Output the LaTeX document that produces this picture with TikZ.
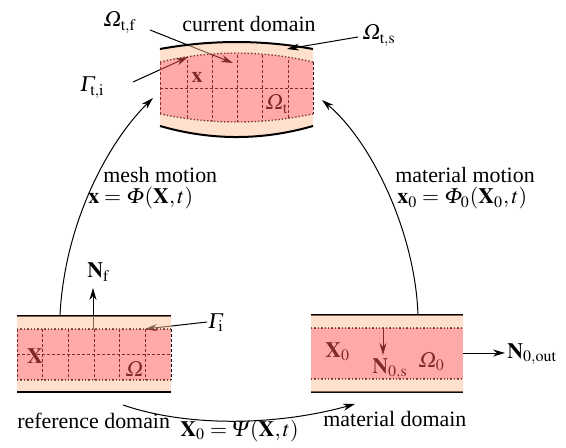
\documentclass[tikz,border=0pt,11pt]{standalone}
\usepackage{mathptmx}
\usepackage{fontspec}
\setmainfont{Liberation Serif}
\usetikzlibrary{arrows.meta}

% slanted capital Greek from the letters font
\DeclareMathSymbol{\itGamma}{\mathalpha}{letters}{"00}
\DeclareMathSymbol{\itPhi}{\mathalpha}{letters}{"08}
\DeclareMathSymbol{\itPsi}{\mathalpha}{letters}{"09}
\DeclareMathSymbol{\itOmega}{\mathalpha}{letters}{"0A}

\definecolor{peach}{RGB}{255,193,153}
\definecolor{rose}{RGB}{255,85,85}

\tikzset{
  wall/.style={line width=1pt},
  iface/.style={densely dotted, line width=0.7pt},
  meshline/.style={dash pattern=on 1.5pt off 1pt, line width=0.4pt},
  solidlayer/.style={fill=peach, fill opacity=0.5},
  fluidlayer/.style={fill=rose, fill opacity=0.5},
  lbl/.style={inner sep=0pt, anchor=base west},
  pointer/.style={-{Stealth[length=6pt,width=3.5pt]}, line width=0.5pt},
}

\begin{document}
\begin{tikzpicture}[x=0.5pt, y=-0.5pt]
\useasboundingbox (0,0) rectangle (566,448);

% texts
\node[lbl, anchor=base] (curlbl) at (249,32) {current domain};
\node[lbl] (omtf) at (103,27) {$\itOmega_{\mathrm{t,f}}$};
\node[lbl] (gati) at (80,92) {$\itGamma_{\mathrm{t,i}}$};
\node[lbl] (omts) at (362,40) {$\itOmega_{\mathrm{t,s}}$};
\node[lbl] (meshlbl) at (103,183) {mesh motion};
\node[lbl] (meshmap) at (88,204) {$\mathbf{x}=\itPhi(\mathbf{X},t)$};
\node[lbl] (matlbl) at (395,183) {material motion};
\node[lbl] (matmap) at (397,204) {$\mathbf{x}_0=\itPhi_0(\mathbf{X}_0,t)$};
\node[lbl] (nf) at (87,278) {$\mathbf{N}_{\mathrm{f}}$};
\node[lbl] (gai) at (208,328) {$\itGamma_{\mathrm{i}}$};
\node[lbl] (reflbl) at (17,428) {reference domain};
\node[lbl] (psimap) at (180,436) {$\mathbf{X}_0=\itPsi(\mathbf{X},t)$};
\node[lbl] (matdom) at (323,426) {material domain};
\node[lbl] (nout) at (507,358) {$\mathbf{N}_{0,\mathrm{out}}$};

% texts inside the domains (they get tinted by the layers)
\node[lbl, anchor=base] (xcur) at (197,83) {$\mathbf{x}$};
\node[lbl] (omt) at (265,110) {$\itOmega_{\mathrm{t}}$};
\node[lbl, anchor=base] (xref) at (35,363) {$\mathbf{X}$};
\node[lbl] (omref) at (125,376) {$\itOmega$};
\node[lbl] (xmat) at (325,357) {$\mathbf{X}_0$};
\node[lbl] (nos) at (372,373) {$\mathbf{N}_{0,\mathrm{s}}$};
\node[lbl] (ommat) at (418,367) {$\itOmega_0$};

% end points of the pointers
\coordinate (omtf-from) at (150,30);
\coordinate (omtf-to) at (233,63);
\coordinate (gati-from) at (133,82);
\coordinate (gati-to) at (188,57);
\coordinate (omts-from) at (358,37);
\coordinate (omts-to) at (287,49);
\coordinate (nf-from) at (93,329);
\coordinate (nf-to) at (93,288);
\coordinate (gai-from) at (207,322);
\coordinate (gai-to) at (145,329);
\coordinate (nos-from) at (383,329);
\coordinate (nos-to) at (383,355);
\coordinate (nout-from) at (463,353);
\coordinate (nout-to) at (505,353);
\coordinate (ref-top) at (60,315);
\coordinate (cur-left) at (153,98);
\coordinate (mat-top) at (418,315);
\coordinate (cur-right) at (322,100);
\coordinate (ref-low) at (123,405);
\coordinate (mat-low) at (355,404);

% mesh of the current domain
\begin{scope}
  \clip (160,62) .. controls (211,50) and (262,50) .. (313,62) -- (313,114)
    .. controls (262,124.7) and (211,124.7) .. (160,114) -- cycle;
  \foreach \x in {187,212,237,262,288}
    \draw[meshline] (\x,40) -- (\x,140);
  \draw[meshline] (150,88) -- (320,88);
\end{scope}
\draw[meshline] (160,62) -- (160,114) (313,62) -- (313,114);
\draw[iface] (160,62) .. controls (211,50) and (262,50) .. (313,62);
\draw[iface] (160,114) .. controls (211,124.7) and (262,124.7) .. (313,114);

% mesh of the reference domain
\foreach \x in {17,42.7,68.3,94,119.7,145.3,171}
  \draw[meshline] (\x,329) -- (\x,380);
\draw[meshline] (17,354.5) -- (171,354.5);
\draw[iface] (17,329) -- (171,329) (17,380) -- (171,380);
\draw[wall] (17,316) -- (171,316);

% material domain
\draw[iface] (311,328) -- (463,328) (311,379) -- (463,379);
\draw[wall] (311,315) -- (463,315) (311,392) -- (463,392);

% pointers that end inside a domain
\draw[pointer] (omtf-from) -- (omtf-to);
\draw[pointer] (gati-from) -- (gati-to);
\draw[pointer] (nf-from) -- (nf-to);
\draw[pointer] (gai-from) -- (gai-to);
\draw[pointer] (nos-from) -- (nos-to);

% coloured layers
\path[solidlayer, even odd rule]
  (160,49) .. controls (211,39.7) and (262,39.7) .. (313,49) -- (313,126)
    .. controls (262,140.7) and (211,140.7) .. (160,126) -- cycle
  (160,62) .. controls (211,50) and (262,50) .. (313,62) -- (313,114)
    .. controls (262,124.7) and (211,124.7) .. (160,114) -- cycle;
\path[fluidlayer]
  (160,62) .. controls (211,50) and (262,50) .. (313,62) -- (313,114)
    .. controls (262,124.7) and (211,124.7) .. (160,114) -- cycle;
\path[solidlayer] (17,316) rectangle (171,329) (17,380) rectangle (171,392);
\path[fluidlayer] (17,329) rectangle (171,380);
\path[solidlayer] (311,315) rectangle (463,328) (311,379) rectangle (463,392);
\path[fluidlayer] (311,328) rectangle (463,379);

% walls on top
\draw[wall] (160,49) .. controls (211,39.7) and (262,39.7) .. (313,49);
\draw[wall] (160,126) .. controls (211,140.7) and (262,140.7) .. (313,126);
\draw[wall] (17,392) -- (171,392);

% pointers and motions outside the domains
\draw[pointer] (omts-from) -- (omts-to);
\draw[pointer] (nout-from) -- (nout-to);
\draw[pointer] (ref-top) .. controls (65,220) and (110,140) .. (cur-left);
\draw[pointer] (mat-top) .. controls (415,230) and (370,140) .. (cur-right);
\draw[pointer] (ref-low) .. controls (190,428) and (280,425) .. (mat-low);
\end{tikzpicture}
\end{document}
